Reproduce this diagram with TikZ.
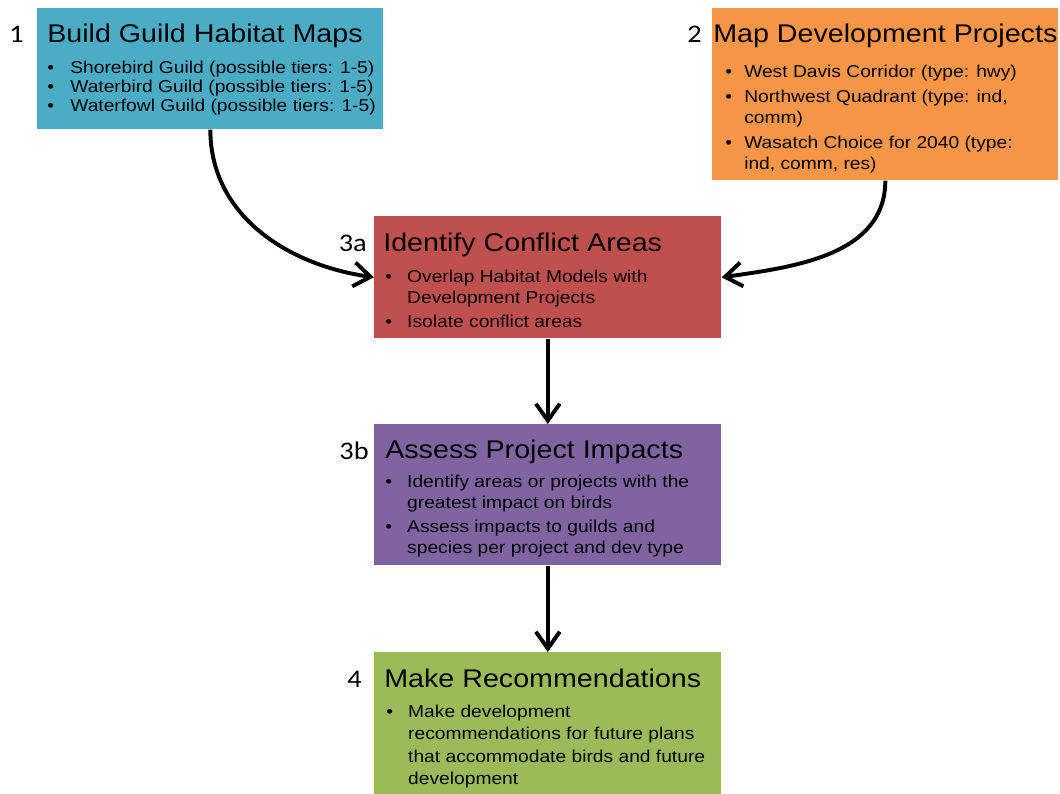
\documentclass[tikz,border=0pt]{standalone}
\usepackage{fontspec}
\setmainfont{Liberation Sans}[FakeStretch=1.12]
\newfontfamily\numfont{Carlito}[FakeStretch=1.12]
\usetikzlibrary{arrows.meta}

\definecolor{buildblue}{HTML}{4BACC6}
\definecolor{maporange}{HTML}{F79646}
\definecolor{conflictred}{HTML}{C0504D}
\definecolor{assesspurple}{HTML}{8064A2}
\definecolor{recgreen}{HTML}{9BBB59}

% one bullet line, hanging indent for wrapped lines
\newcommand{\bitem}[2][15.6pt]{\par\hangindent=#1\hangafter=1\noindent\makebox[#1][l]{\textbullet}#2}
\newcommand{\steplist}[2][2.5pt]{\parbox[t]{9cm}{\setlength{\parskip}{#1}#2}}

\tikzset{
  stepbox/.style={rectangle, anchor=north west, inner sep=0pt},
  heading/.style={anchor=base west, inner sep=0pt, font=\fontsize{18.2}{20}\selectfont},
  body/.style={anchor=base west, inner sep=0pt, font=\fontsize{12.2}{15}\selectfont},
  stepnum/.style={anchor=base east, inner sep=0pt, font=\numfont\fontsize{18}{20}\selectfont},
  flow/.style={line width=2.8pt, -{Straight Barb[length=12pt,width=17pt]}}
}

\begin{document}
\begin{tikzpicture}[x=0.025cm,y=-0.025cm]
\useasboundingbox (0,0) rectangle (1060,794);

\node (build) at (37,8) [stepbox, fill=buildblue, minimum width=8.65cm, minimum height=3.025cm] {};
\node (mapdev) at (712,8) [stepbox, fill=maporange, minimum width=8.65cm, minimum height=4.3cm] {};
\node (conflict) at (374,216) [stepbox, fill=conflictred, minimum width=8.675cm, minimum height=3.05cm] {};
\node (assess) at (374,424) [stepbox, fill=assesspurple, minimum width=8.675cm, minimum height=3.525cm] {};
\node (recommend) at (374,652) [stepbox, fill=recgreen, minimum width=8.675cm, minimum height=3.55cm] {};

\node (n1) at (24,43) [stepnum] {1};
\node (n2) at (702,43) [stepnum] {2};
\node (n3a) at (367,252) [stepnum] {3a};
\node (n3b) at (369,459) [stepnum] {3b};
\node (n4) at (362,687) [stepnum] {4};

\node (buildtitle) at (47,43) [heading] {Build Guild Habitat Maps};
\node (maptitle) at (713,43) [heading] {Map Development Projects};
\node (conflicttitle) at (383,252) [heading] {Identify Conflict Areas};
\node (assesstitle) at (385,458) [heading] {Assess Project Impacts};
\node (rectitle) at (384,687) [heading] {Make Recommendations};

\node (buildlist) at (47,74) [body, font=\fontsize{12.2}{13.5}\selectfont] {\steplist[0pt]{%
\bitem[16.4pt]{Shorebird Guild (possible tiers: 1-5)}
\bitem[16.4pt]{Waterbird Guild (possible tiers: 1-5)}
\bitem[16.4pt]{Waterfowl Guild (possible tiers: 1-5)}}};
\node (maplist) at (725,78) [body] {\steplist{%
\bitem[13.5pt]{West Davis Corridor (type: hwy)}
\bitem[13.5pt]{Northwest Quadrant (type: ind,\newline comm)}
\bitem[13.5pt]{Wasatch Choice for 2040 (type:\newline ind, comm, res)}}};
\node (conflictlist) at (385,282) [body] {\steplist{%
\bitem{Overlap Habitat Models with\newline Development Projects}
\bitem{Isolate conflict areas}}};
\node (assesslist) at (385,487) [body] {\steplist{%
\bitem{Identify areas or projects with the\newline greatest impact on birds}
\bitem{Assess impacts to guilds and\newline species per project and dev type}}};
\node (reclist) at (386,717) [body, font=\fontsize{12.2}{16.1}\selectfont] {\steplist{%
\bitem{Make development\newline recommendations for future plans\newline that accommodate birds and future\newline development}}};

\draw[flow] (build.south) to[out=-90,in=172] (conflict.west);
\draw[flow] (mapdev.south) to[out=-90,in=8] (conflict.east);
\draw[flow] (conflict) -- (assess);
\draw[flow] (assess) -- (recommend);
\end{tikzpicture}
\end{document}
